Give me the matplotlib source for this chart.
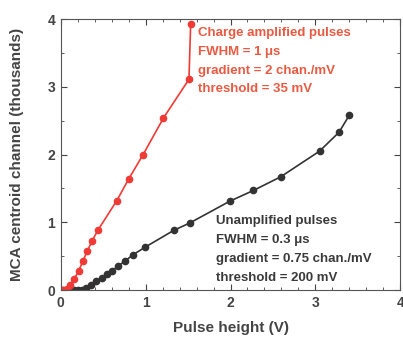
# Pulse height vs MCA centroid channel

import matplotlib.pyplot as plt
from matplotlib.ticker import MultipleLocator

plt.rcParams['font.family'] = ['Liberation Sans', 'DejaVu Sans']

# charge amplified pulses (red)
amp_x = [0.03, 0.07, 0.11, 0.16, 0.21, 0.26, 0.31, 0.37, 0.44, 0.66, 0.80, 0.97, 1.21, 1.51, 1.53]
amp_y = [0.0, 0.02, 0.08, 0.17, 0.28, 0.43, 0.57, 0.73, 0.89, 1.32, 1.64, 2.0, 2.54, 3.11, 3.92]

# unamplified pulses (black)
unamp_x = [0.03, 0.10, 0.15, 0.20, 0.25, 0.30, 0.36, 0.42, 0.48, 0.54, 0.60, 0.67, 0.76,
           0.85, 0.99, 1.33, 1.52, 1.99, 2.27, 2.59, 3.05, 3.28, 3.40]
unamp_y = [0.0, 0.0, 0.0, 0.0, 0.0, 0.03, 0.08, 0.13, 0.18, 0.23, 0.28, 0.35, 0.43,
           0.52, 0.63, 0.88, 0.99, 1.31, 1.47, 1.67, 2.05, 2.33, 2.58]

amp_text = ["Charge amplified pulses", "FWHM = 1 \u03bcs", "gradient = 2 chan./mV", "threshold = 35 mV"]
unamp_text = ["Unamplified pulses", "FWHM = 0.3 \u03bcs", "gradient = 0.75 chan./mV", "threshold = 200 mV"]

red = '#f03a36'
red_txt = '#e85a42'
dark = '#333333'

fig = plt.figure(figsize=(4.03, 3.40), dpi=100)
ax = fig.add_axes([0.151, 0.147, 0.842, 0.797])

ax.plot(unamp_x, unamp_y, '-o', color=dark, ms=4.5, lw=1.2)
ax.plot(amp_x, amp_y, '-o', color=red, ms=4.5, lw=1.2)

ax.set_xlim(0, 4)
ax.set_ylim(0, 4)
ax.xaxis.set_major_locator(MultipleLocator(1))
ax.xaxis.set_minor_locator(MultipleLocator(0.2))
ax.yaxis.set_major_locator(MultipleLocator(1))
ax.yaxis.set_minor_locator(MultipleLocator(0.5))
ax.tick_params(which='both', direction='in', top=True, right=True, labelsize=10, colors='#444444')
ax.tick_params(which='major', length=4, pad=4)
ax.tick_params(which='minor', length=2)
for lab in ax.get_xticklabels() + ax.get_yticklabels():
    lab.set_fontweight('bold')
for s in ax.spines.values():
    s.set_color('#555555')

ax.set_xlabel("Pulse height (V)", fontsize=11, fontweight='bold', color='#444444', labelpad=8)
ax.set_ylabel("MCA centroid channel (thousands)", fontsize=11, fontweight='bold', color='#444444', labelpad=17)

# annotations
for i, t in enumerate(amp_text):
    ax.text(1.62, 3.8 - i * 0.28, t, color=red_txt, fontsize=9.5, fontweight='bold', va='center')
for i, t in enumerate(unamp_text):
    ax.text(1.83, 1.02 - i * 0.28, t, color='#3a3a3a', fontsize=9.5, fontweight='bold', va='center')

plt.savefig("out.png", dpi=100)
